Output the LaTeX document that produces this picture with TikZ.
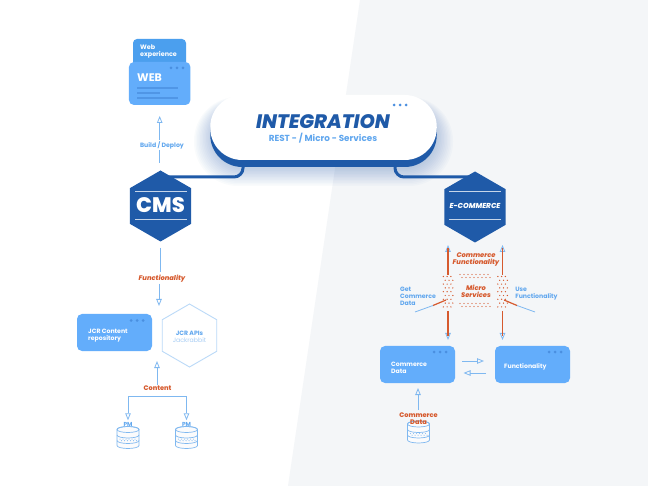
\documentclass[tikz,border=0pt]{standalone}
\usepackage{fontspec}
\setmainfont{Poppins}
\newfontfamily\heavy{Poppins ExtraBold}
\usetikzlibrary{arrows.meta,shapes.geometric}
\pgfdeclarelayer{backdrop}
\pgfdeclarelayer{links}
\pgfsetlayers{backdrop,links,main}
\definecolor{navy}{HTML}{1F5AA8}
\definecolor{sky}{HTML}{63ADFB}
\definecolor{skydark}{HTML}{4B9FEE}
\definecolor{dotblue}{HTML}{4A8FE0}
\definecolor{linkblue}{HTML}{7FB8F0}
\definecolor{labelblue}{HTML}{5FA6EE}
\definecolor{paleblue}{HTML}{BBDAF8}
\definecolor{softblue}{HTML}{A6CCF4}
\definecolor{rust}{HTML}{D65A2E}
\definecolor{panel}{HTML}{F4F6F8}
\tikzset{
  x=1pt,y=-1pt,
  appbox/.style={fill=sky,rounded corners=5pt,inner sep=0pt,minimum width=75pt,minimum height=37pt},
  hexnode/.style={shape=regular polygon,regular polygon sides=6,regular polygon rotate=30,inner sep=0pt},
  hexfill/.style={hexnode,fill=navy,minimum size=71pt},
  boxtext/.style={text=white,font=\fontsize{6.2}{7.2}\selectfont\bfseries,align=left,anchor=west,inner sep=0pt},
  bluetext/.style={text=labelblue,font=\fontsize{6.2}{7}\selectfont\bfseries,align=center,inner sep=1pt},
  rusttext/.style={text=rust,font=\fontsize{6.7}{7.2}\selectfont\heavy\itshape,align=center,inner sep=1pt},
  flow/.style={draw=linkblue,line width=.8pt,-{Triangle[open,length=7pt,width=5.5pt,sep=1pt]}},
  plainflow/.style={draw=linkblue,line width=.8pt},
  rustflow/.style={draw=rust,line width=1.2pt},
  link/.style={draw=navy,line width=3pt,rounded corners=9pt},
  dbline/.style={draw=linkblue,line width=.7pt,fill=white},
  pics/windots/.style={code={
    \foreach \d in {0,6,12}{\fill[dotblue] (\d,0) circle (1.5pt);}
  }},
  pics/dbstack/.style={code={
    % three stacked disks, the middle one hatched with dots
    \draw[dbline,fill=panel!40!white] (-11,3) -- (-11,19) arc[start angle=180,end angle=360,x radius=11pt,y radius=3pt]
      -- (11,3) arc[start angle=0,end angle=180,x radius=11pt,y radius=3pt];
    \draw[dbline,fill=none] (0,3) ellipse[x radius=11pt,y radius=3pt];
    \draw[dbline,fill=none] (-11,8.5) arc[start angle=180,end angle=360,x radius=11pt,y radius=3pt];
    \draw[dbline,fill=none] (-11,14) arc[start angle=180,end angle=360,x radius=11pt,y radius=3pt];
    \foreach \i in {-8,-5,-2,1,4,7}{
      \fill[linkblue] (\i,12.6) circle (.55pt);
      \fill[linkblue] (\i+1.5,14.2) circle (.55pt);
    }
  }},
}
\begin{document}
\begin{tikzpicture}
\useasboundingbox (0,0) rectangle (648,486);

\begin{pgfonlayer}{backdrop}
  \fill[white] (0,0) rectangle (648,486);
  \fill[panel] (360,0) -- (648,0) -- (648,486) -- (288,486) -- cycle;
  % soft shadow under the central capsule
  \foreach \g in {1,...,12}{
    \fill[navy,opacity=.022,rounded corners={32pt+\g*1pt}]
      ({212-\g*1.5},{104-\g*.6}) rectangle ({435+\g*1.5},{168+\g*1.5});
  }
\end{pgfonlayer}

% Central capsule
\node[fill=navy,rounded corners=32pt,minimum width=226.5pt,minimum height=65pt,inner sep=0pt] (capsulebase) at (323.5,134.5) {};
\node[fill=white,rounded corners=32pt,minimum width=226.5pt,minimum height=65pt,inner sep=0pt] (capsule) at (323.5,127.5) {};
\node[text=navy,font=\fontsize{19.5}{20}\selectfont\heavy\itshape,inner sep=0pt] (integration) at (323,121.5) {INTEGRATION};
\node[text=labelblue,font=\fontsize{8.8}{10}\selectfont\bfseries,inner sep=0pt] (rest) at (323,138) {REST - / Micro - Services};
\pic at (394,105) {windots};

% Left column: CMS
\node[fill=skydark,rounded corners=4pt,minimum width=53pt,minimum height=27pt,inner sep=0pt] (webtab) at (159.5,52.5) {};
\node[fill=sky,rounded corners=5pt,minimum width=61.5pt,minimum height=43pt,inner sep=0pt] (webbox) at (159.7,83.5) {};
\node[boxtext,font=\fontsize{6.4}{7}\selectfont\bfseries] (webexp) at (140,51) {Web\\experience};
\node[boxtext,font=\fontsize{11}{12}\selectfont\bfseries] (webtitle) at (137,78) {WEB};
\pic at (171,68) {windots};
\foreach \yy/\xx in {88/178,93/160,98/178}{
  \fill[dotblue,opacity=.75] (137,\yy-1) rectangle (\xx,\yy+1);
}
\node[hexfill] (cms) at (160.5,206) {};
\node[text=white,font=\fontsize{21}{22}\selectfont\heavy,inner sep=0pt] (cmstext) at (160.5,205.5) {CMS};
\draw[white,opacity=.75,line width=.6pt] (135,191) -- (187,191) (135,219) -- (187,219);

\node[bluetext] (build) at (162,145) {Build / Deploy};
\node[rusttext] (func) at (162,279) {Functionality};
\node[appbox] (jcr) at (114.5,332.5) {};
\node[boxtext] (jcrtext) at (88,335.5) {JCR Content\\repository};
\pic at (131,320.5) {windots};
\node[hexnode,draw=paleblue,line width=.9pt,minimum size=63pt] (apis) at (189.5,335.5) {};
\node[text=labelblue,font=\fontsize{6.2}{7.2}\selectfont,align=center,inner sep=0pt] (apistext) at (189.5,336.5) {\textbf{JCR APIs}\\\textcolor{softblue}{Jackrabbit}};
\node[rusttext,font=\fontsize{6.6}{7.2}\selectfont\heavy] (content) at (157.5,388.5) {Content};
\pic at (128,426.5) {dbstack};
\pic at (186.5,426.5) {dbstack};
\node[bluetext,font=\fontsize{5.8}{6.5}\selectfont\bfseries] (pma) at (128,424.5) {PM};
\node[bluetext,font=\fontsize{5.8}{6.5}\selectfont\bfseries] (pmb) at (186.5,424.5) {PM};
\coordinate (webin) at (159,115);
\coordinate (funcin) at (159,307);
\coordinate (apisin) at (157,360);
\coordinate (bracket) at (157.5,396);

% Right column: E-commerce
\node[hexfill] (ecom) at (475,207) {};
\node[text=white,font=\fontsize{7.2}{8}\selectfont\heavy\itshape,inner sep=0pt] (ecomtext) at (475,205.5) {E-COMMERCE};
\draw[white,opacity=.75,line width=.6pt] (449,191) -- (501,191) (449,219.5) -- (501,219.5);
\node[rusttext] (cf) at (476,259.5) {Commerce\\Functionality};
\node[rusttext] (ms) at (476,291) {Micro\\Services};
\node[appbox] (cdata) at (417.5,364.5) {};
\node[appbox] (fbox) at (532.5,364.5) {};
\node[boxtext] (cdatatext) at (391,367.5) {Commerce\\Data};
\node[boxtext] (fboxtext) at (504,366.5) {Functionality};
\pic at (434,352) {windots};
\pic at (549,352) {windots};
\pic at (418.5,421) {dbstack};
\node[rusttext,font=\fontsize{6.6}{7}\selectfont\heavy] (cdlabel) at (418.5,418.5) {Commerce\\Data};
\node[bluetext,align=left] (getlabel) at (418,296) {Get\\Commerce\\Data};
\node[bluetext,align=left] (uselabel) at (536.5,293.5) {Use\\Functionality};

% Staggered dot fields
\foreach \row in {0,...,8}{
  \pgfmathsetmacro{\yy}{276.5+\row*3.8}
  \pgfmathsetmacro{\off}{mod(\row,2)*1.9}
  \foreach \cx in {448,502.5}{
    \foreach \k in {-1,0,1}{
      \fill[rust] ({\cx+\k*3.8-.9+\off},\yy) circle (.7pt);
    }
  }
}
\foreach \yy in {276,305}{
  \foreach \k in {0,...,7}{
    \fill[rust] (460+\k*4,\yy-1.5) circle (.7pt);
    \fill[rust] (462+\k*4,\yy+1.5) circle (.7pt);
  }
}
\coordinate (ltop) at (448,275);
\coordinate (lbot) at (448,311);
\coordinate (rtop) at (502.5,275);
\coordinate (rbot) at (502.5,311);
\coordinate (ltip) at (448,244);
\coordinate (rtip) at (502.5,244);
\coordinate (lend) at (448,341);
\coordinate (rend) at (502.5,341);
\coordinate (getjoin) at (433,305.5);
\coordinate (getdots) at (446,300);
\coordinate (getend) at (415,312);
\coordinate (usejoin) at (517,305.5);
\coordinate (usedots) at (504,300);
\coordinate (useend) at (535,312);

\begin{pgfonlayer}{links}
  % Capsule to hexagons
  \draw[link] (243,160) |- (cms.center |- 0,177);
  \draw[link] (395,160) |- (ecom.center |- 0,177);
\end{pgfonlayer}

% Left column arrows
\draw[plainflow] (webbox.south |- 0,163) -- (build.south -| webbox.south);
\draw[flow] (build.north -| webbox.south) -- (webin -| webbox.south);
\draw[plainflow] (160,248) -- (160,272);
\draw[flow] (func.south -| funcin) -- (funcin);
\draw[flow] (content.north -| apisin) -- (apisin);
\draw[plainflow] (pma |- bracket) -- (pmb |- bracket);
\draw[flow] (pma |- bracket) -- (pma.north);
\draw[flow] (pmb |- bracket) -- (pmb.north);

% Right column arrows
\draw[flow] (ltop |- 0,251) -- (ltip);
\draw[flow] (rtop |- 0,251) -- (rtip);
\draw[flow] (lbot |- 0,333) -- (lend);
\draw[flow] (rbot |- 0,333) -- (rend);
\draw[rustflow] (ltop) -- (ltop |- 0,248.5);
\draw[rustflow] (rtop) -- (rtop |- 0,248.5);
\draw[rustflow] (lbot) -- (lbot |- 0,336.5);
\draw[rustflow] (rbot) -- (rbot |- 0,336.5);
\draw[rustflow] (getdots) -- (getjoin);
\draw[plainflow] (getjoin) -- (getend);
\draw[rustflow] (usedots) -- (usejoin);
\draw[plainflow] (usejoin) -- (useend);
\draw[flow] (462,361) -- (485,361);
\draw[flow] (486,373) -- (462.5,373);
\draw[flow] (418,410) -- (418,387);
\end{tikzpicture}
\end{document}
